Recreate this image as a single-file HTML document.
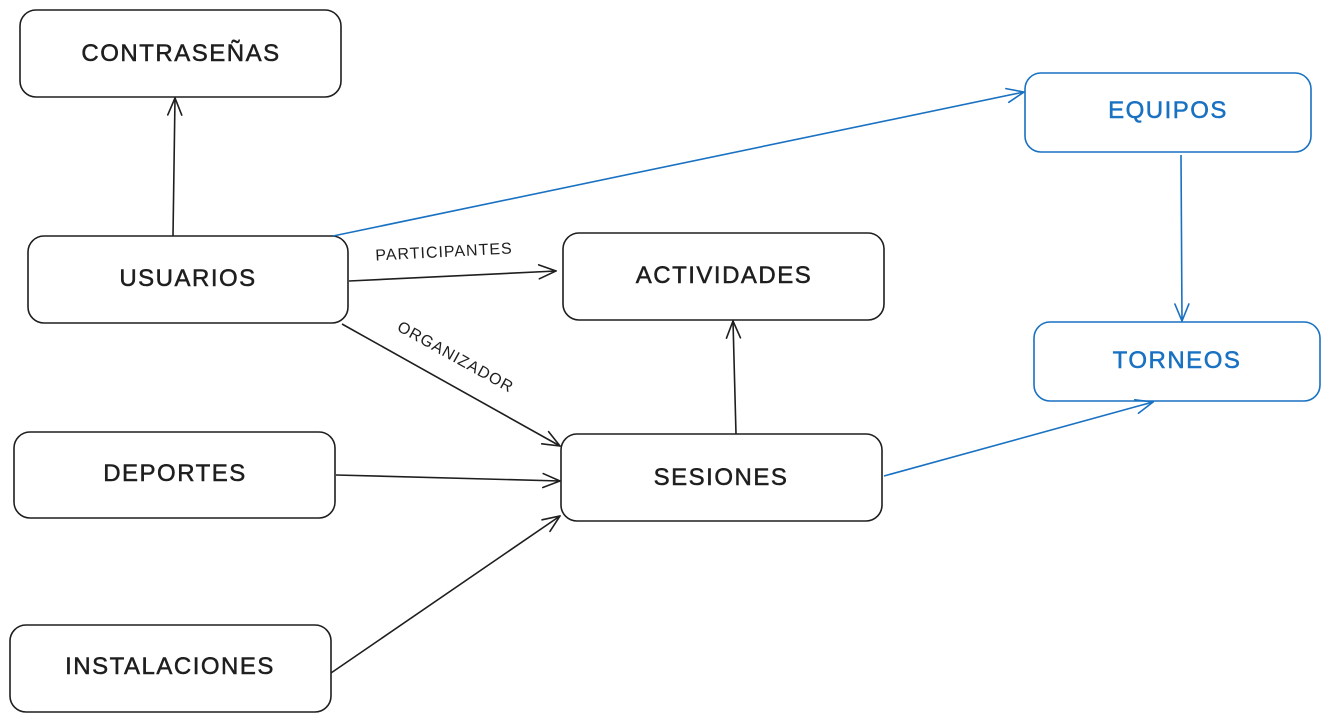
<!DOCTYPE html>
<html><head><meta charset="utf-8"><style>
html,body{margin:0;padding:0;background:#fff;}
svg{display:block;}
text{font-family:"Liberation Sans",sans-serif;}
</style></head><body>
<svg width="1330" height="721" viewBox="0 0 1330 721" xmlns="http://www.w3.org/2000/svg">
<defs>
<marker id="ab" viewBox="0 0 20 20" refX="19" refY="10" markerWidth="20" markerHeight="20" markerUnits="userSpaceOnUse" orient="auto">
<path d="M2,3 L19,10 L2,17" fill="none" stroke="#1e1e1e" stroke-width="1.6" stroke-linecap="round"/></marker>
<marker id="abl" viewBox="0 0 20 20" refX="19" refY="10" markerWidth="20" markerHeight="20" markerUnits="userSpaceOnUse" orient="auto">
<path d="M2,3 L19,10 L2,17" fill="none" stroke="#1971c2" stroke-width="1.6" stroke-linecap="round"/></marker>
</defs>
<g fill="none" stroke="#1e1e1e" stroke-width="1.6">
<rect x="20" y="10" width="321" height="87" rx="16"/>
<rect x="28" y="236" width="320" height="87" rx="16"/>
<rect x="563" y="233" width="321" height="87" rx="16"/>
<rect x="14" y="432" width="321" height="86" rx="16"/>
<rect x="561" y="434" width="321" height="87" rx="16"/>
<rect x="10" y="625" width="321" height="87" rx="16"/>
</g>
<g fill="none" stroke="#1971c2" stroke-width="1.6">
<rect x="1025" y="73" width="286" height="79" rx="16"/>
<rect x="1034" y="322" width="286" height="79" rx="16"/>
</g>
<g stroke="#1e1e1e" stroke-width="1.6" fill="none" marker-end="url(#ab)">
<line x1="173" y1="236" x2="175" y2="98"/>
<line x1="349" y1="281" x2="556" y2="271"/>
<line x1="342" y1="324" x2="560" y2="446"/>
<line x1="336" y1="475" x2="560" y2="481"/>
<line x1="331" y1="673" x2="560" y2="516"/>
<line x1="736" y1="434" x2="733" y2="321"/>
</g>
<g stroke="#1971c2" stroke-width="1.6" fill="none" marker-end="url(#abl)">
<line x1="333" y1="236" x2="1024" y2="92"/>
<line x1="1181" y1="155" x2="1182" y2="321"/>
<line x1="884" y1="476" x2="1153" y2="402"/>
</g>
<g font-size="24" text-anchor="middle" fill="#1e1e1e" letter-spacing="1.5" stroke="#1e1e1e" stroke-width="0.5">
<text x="181" y="61">CONTRASEÑAS</text>
<text x="188" y="286">USUARIOS</text>
<text x="724" y="283">ACTIVIDADES</text>
<text x="175" y="481">DEPORTES</text>
<text x="721" y="485">SESIONES</text>
<text x="170" y="674">INSTALACIONES</text>
<text x="1168" y="118" fill="#1971c2" stroke="#1971c2">EQUIPOS</text>
<text x="1177" y="368" fill="#1971c2" stroke="#1971c2">TORNEOS</text>
</g>
<g font-size="16" fill="#1e1e1e" text-anchor="middle" letter-spacing="1">
<text x="444" y="257" transform="rotate(-3 444 252)">PARTICIPANTES</text>
<text x="455" y="362" transform="rotate(29 455 358)">ORGANIZADOR</text>
</g>
</svg>
</body></html>
